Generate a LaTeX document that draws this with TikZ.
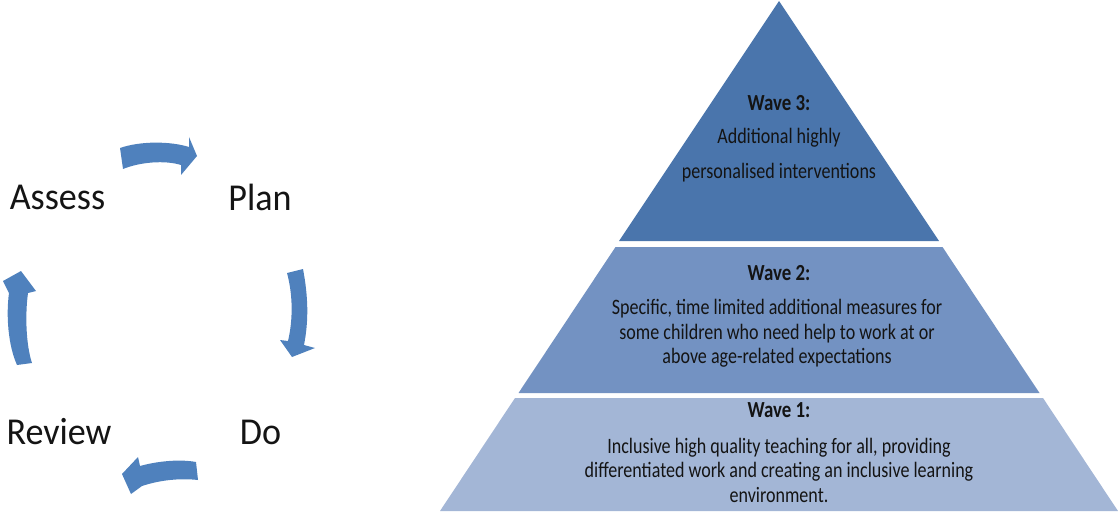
\documentclass[tikz,border=0pt]{standalone}
\usepackage{fontspec}
\setmainfont{Carlito}
\newfontfamily\condfont[FakeStretch=0.82]{Carlito}
\newfontfamily\labelfont[FakeStretch=0.95]{Carlito}
\definecolor{arrowblue}{RGB}{79,129,189}
\definecolor{wavethree}{RGB}{74,117,172}
\definecolor{wavetwo}{RGB}{115,146,194}
\definecolor{waveone}{RGB}{163,182,214}
\definecolor{txt}{RGB}{20,20,20}
\tikzset{
  cyclabel/.style={font=\labelfont\fontsize{38}{40}\selectfont, text=txt, inner sep=0pt},
  wavetitle/.style={font=\condfont\fontsize{23}{24}\selectfont\bfseries, text=txt, inner sep=0pt},
  wavebody/.style={font=\condfont\fontsize{22}{24.5}\selectfont, text=txt, inner sep=0pt, align=center},
  cycarrow/.style={fill=arrowblue, draw=none}
}
\begin{document}
\begin{tikzpicture}[x=1pt,y=-1pt]
\useasboundingbox (0,0) rectangle (1118,513);
% pyramid
\fill[wavethree] (779,1) -- (939,241) -- (619,241) -- cycle;
\fill[wavetwo] (615.5,247) -- (942.5,247) -- (1039.5,393) -- (518.5,393) -- cycle;
\fill[waveone] (515,398) -- (1043,398) -- (1118,511) -- (440,511) -- cycle;
% wave texts
\node[wavetitle] (w3t) at (779,103) {Wave 3:};
\node[wavebody, font=\condfont\fontsize{22}{35}\selectfont] (w3b) at (779,155.5) {Additional highly\\personalised interventions};
\node[wavetitle] (w2t) at (779,273) {Wave 2:};
\node[wavebody] (w2b) at (777,333.5) {Specific, time limited additional measures for\\some children who need help to work at or\\above age-related expectations};
\node[wavetitle] (w1t) at (779,410) {Wave 1:};
\node[wavebody] (w1b) at (779,470) {Inclusive high quality teaching for all, providing\\differentiated work and creating an inclusive learning\\environment.};
% cycle labels
\node[cyclabel] (assess) at (57.5,197) {Assess};
\node[cyclabel] (plan) at (260,197) {Plan};
\node[cyclabel] (review) at (59,432) {Review};
\node[cyclabel] (do) at (260.5,432) {Do};
% cycle arrows
\fill[cycarrow] (120,148) .. controls (140,141) and (170,141) .. (189,147) -- (189,137) -- (197,156) -- (181,175) -- (181,165) .. controls (165,160) and (140,162) .. (123,169) -- cycle;
\fill[cycarrow] (287,273) .. controls (293,295) and (293,320) .. (288,341) -- (280,340) -- (292,357) -- (315,348) -- (304,345) .. controls (309,320) and (308,295) .. (303,269) -- cycle;
\fill[cycarrow] (196,462) .. controls (180,459) and (158,461) .. (140,466) -- (138,457) -- (122,474) -- (131,494) -- (142,486) .. controls (160,480) and (180,478) .. (198,480) -- cycle;
\fill[cycarrow] (17,365) .. controls (8,345) and (6,315) .. (9,293) -- (3,281) -- (21,271) -- (36,291) -- (28,293) .. controls (25,315) and (26,345) .. (32,363) -- cycle;
\end{tikzpicture}
\end{document}
